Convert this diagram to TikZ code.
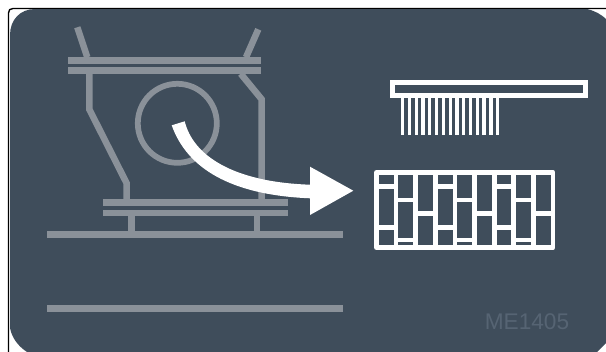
\documentclass[tikz,border=0pt]{standalone}
\usepackage{fontspec}
\setmainfont{Liberation Sans}
\definecolor{panel}{HTML}{3F4D5B}
\definecolor{metal}{HTML}{8A9199}
\definecolor{stamp}{HTML}{566473}
\tikzset{
  metalline/.style={draw=metal,line width=4.9pt,line join=miter},
  metalbar/.style={fill=metal},
  gridline/.style={draw=white,line width=3.5pt},
  tine/.style={fill=white}
}
\begin{document}
\begin{tikzpicture}[x=0.75pt,y=-0.75pt]
\useasboundingbox (0,0) rectangle (606,351);
\fill[white] (0,0) rectangle (606,351);
% frame and panel
\draw[black,line width=1pt] (8.5,352) -- (8.5,13) .. controls (8.5,10) and (10,8.5) .. (13,8.5) -- (607,8.5);
\fill[panel] (10,328) -- (10,35) .. controls (10,20) and (20,9) .. (35,9) -- (587,9) .. controls (595,11) and (601,14) .. (607,20) -- (607,342) -- (597,352) -- (27,352) .. controls (18,346) and (12,338) .. cycle;
% machine
\foreach \b in {57.3,66.7}{\fill[metalbar] (68,\b) rectangle ++(193.3,7);}
\foreach \b in {199.3,209.7}{\fill[metalbar] (103,\b) rectangle ++(184.7,6.7);}
\fill[metalbar] (47,231) rectangle (343,238);
\fill[metalbar] (47,305) rectangle (343,312);
\draw[metalline] (77.3,27.3) -- (87.3,57.3);
\draw[metalline] (258.3,29.3) -- (246,57.3);
\draw[metalline] (89.3,73.7) -- (89.3,109.3) -- (126.7,183.3) -- (126.7,199.3);
\draw[metalline] (240.7,73.7) -- (261.7,99.3) -- (261.7,199.3);
\draw[metalline] (131.7,216.3) -- (131.7,231);
\draw[metalline] (257,216.3) -- (257,231);
\draw[draw=metal,line width=4.3pt] (177.3,123.3) circle[radius=39.5];
% arrow
\fill[white] (171.7,125.3) -- (184.7,121.3) .. controls (193,155) and (232,182) .. (310,184.7) -- (310,166.7) -- (353.3,190.7) -- (310,215) -- (310,198.3) .. controls (230,195) and (187,168) .. cycle;
% brush
\draw[draw=white,line width=3.9pt] (392.6,82.6) rectangle (585.1,95.4);
\foreach \i in {0,...,14}{\fill[tine] ({401+6.79*\i},97) rectangle ++(3.3,38);}
% grid
\draw[gridline,line join=round] (376.5,172.3) rectangle (553,247.7);
\foreach \i in {1,...,8}{\draw[gridline] ({376.5+19.61*\i},172.3) -- ({376.5+19.61*\i},247.7);}
\foreach \i in {0,3,6}{
  \draw[gridline] ({376.5+19.61*\i},186.7) -- ++(19.61,0);
  \draw[gridline] ({376.5+19.61*\i},227.3) -- ++(19.61,0);
  \draw[gridline] ({376.5+19.61*(\i+1)},200) -- ++(19.61,0);
  \draw[gridline] ({376.5+19.61*(\i+1)},240) -- ++(19.61,0);
  \draw[gridline] ({376.5+19.61*(\i+2)},213.7) -- ++(19.61,0);
}
\node[anchor=base west,inner sep=0pt,text=stamp,font=\fontsize{17pt}{20pt}\selectfont] (code) at (484.5,329) {ME1405};
\end{tikzpicture}
\end{document}
